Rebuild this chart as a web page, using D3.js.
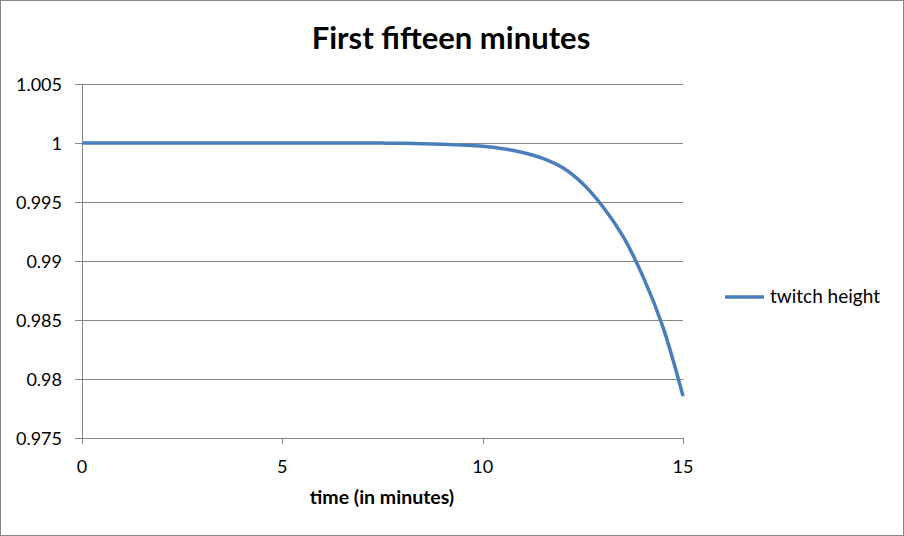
<!DOCTYPE html>
<html><head><meta charset="utf-8">
<script src="https://cdn.jsdelivr.net/npm/d3@7"></script>
<style>body{margin:0;background:#fff}svg{display:block}text{font-family:Lato,"Open Sans",sans-serif}</style>
</head><body>
<svg id="c" width="904" height="536"></svg>
<script>
const times = [0,0.5,1,1.5,2,2.5,3,3.5,4,4.5,5,5.5,6,6.5,7,7.5,8,8.5,9,9.5,10,10.5,11,11.5,12,12.5,13,13.5,14,14.5,15];
const heights = [1,1,1,1,1,1,1,1,1,1,1,1,1,1,1,0.99999,0.99997,0.99994,0.99989,0.99982,0.99972,0.99952,0.99920,0.99870,0.99790,0.99655,0.99460,0.99210,0.98870,0.98440,0.97855];
const yTicks = [0.975,0.98,0.985,0.99,0.995,1,1.005];
const xTicks = [0,5,10,15];
const seriesName = "twitch height";
const title = "First fifteen minutes";
const xTitle = "time (in minutes)";

const svg = d3.select("#c");
svg.append("rect").attr("x",0.5).attr("y",0.5).attr("width",903).attr("height",535).attr("fill","#fff").attr("stroke","#868686");
const x = d3.scaleLinear().domain([0,15]).range([82,683]);
const y = d3.scaleLinear().domain([0.975,1.005]).range([438,84]);
const grid = "#868686";
svg.append("g").selectAll("line").data(yTicks).join("line")
  .attr("x1",75).attr("x2",683).attr("y1",d=>Math.round(y(d))+0.5).attr("y2",d=>Math.round(y(d))+0.5)
  .attr("stroke",grid).attr("stroke-width",1);
svg.append("line").attr("x1",82.5).attr("x2",82.5).attr("y1",84).attr("y2",438).attr("stroke",grid);
svg.append("g").selectAll("line").data(xTicks).join("line")
  .attr("x1",d=>Math.round(x(d))+0.5).attr("x2",d=>Math.round(x(d))+0.5).attr("y1",438).attr("y2",444).attr("stroke",grid);
svg.append("g").selectAll("text").data(yTicks).join("text")
  .attr("x",62).attr("y",d=>y(d)+6.5).attr("text-anchor","end").attr("font-size",18).attr("fill","#000")
  .text(d=>d3.format("")(+d.toFixed(3)));
svg.append("g").selectAll("text").data(xTicks).join("text")
  .attr("x",d=>x(d)).attr("y",473).attr("text-anchor","middle").attr("font-size",18).attr("fill","#000").text(d=>d);
svg.append("text").attr("x",451).attr("y",49).attr("text-anchor","middle").attr("font-size",31).attr("font-weight","bold").text(title);
svg.append("text").attr("x",382).attr("y",504).attr("text-anchor","middle").attr("font-size",19.5).attr("font-weight","bold").text(xTitle);
const line = d3.line().x((d,i)=>x(times[i])).y(d=>y(d)).curve(d3.curveCatmullRom.alpha(0.5));
svg.append("path").attr("d",line(heights)).attr("fill","none").attr("stroke","#4A7EBB").attr("stroke-width",3.5);
svg.append("line").attr("x1",725).attr("x2",764).attr("y1",297).attr("y2",297).attr("stroke","#4A7EBB").attr("stroke-width",3.5);
svg.append("text").attr("x",770).attr("y",303).attr("font-size",19).text(seriesName);
</script>
</body></html>
